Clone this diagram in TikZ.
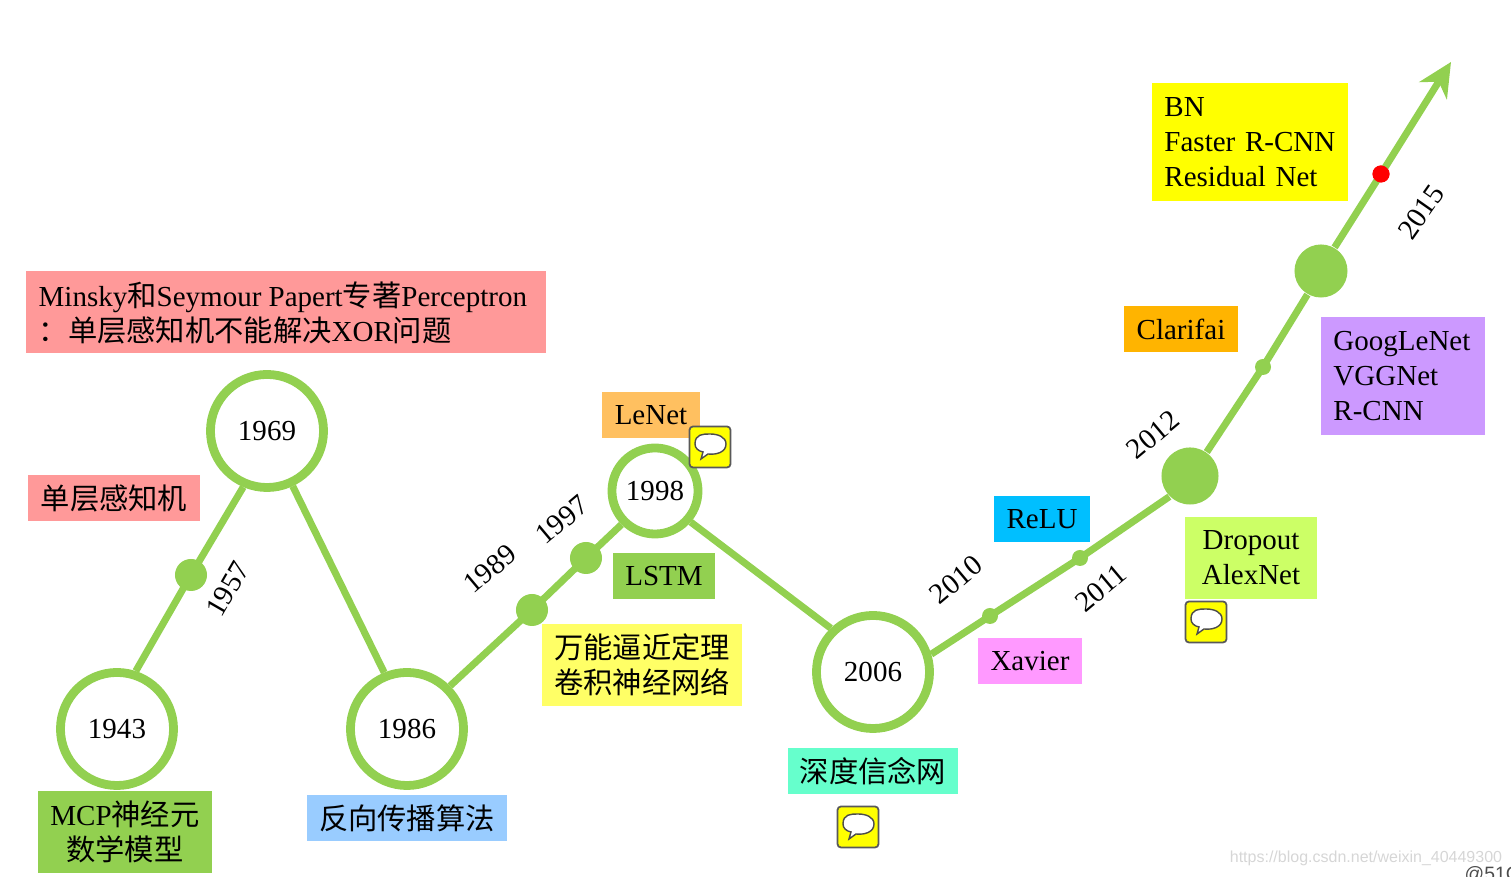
\documentclass[tikz,border=0pt]{standalone}
\usepackage{fontspec}
\setmainfont{Liberation Serif}
\setsansfont{Liberation Sans}
\newfontfamily\cjk{Noto Sans CJK SC}[Scale=1.01]
\usepackage{xcolor}
\usetikzlibrary{arrows.meta}
\definecolor{LineGreen}{RGB}{146,208,80}
\definecolor{BoxRed}{RGB}{255,153,153}
\definecolor{BoxBlue}{RGB}{153,204,255}
\definecolor{BoxOrange}{RGB}{255,192,96}
\definecolor{BoxAmber}{RGB}{255,180,0}
\definecolor{BoxYellow}{RGB}{255,255,102}
\definecolor{BoxBright}{RGB}{255,255,0}
\definecolor{BoxAqua}{RGB}{102,255,204}
\definecolor{BoxPink}{RGB}{255,153,255}
\definecolor{BoxCyan}{RGB}{0,191,255}
\definecolor{BoxLime}{RGB}{204,255,102}
\definecolor{BoxPurple}{RGB}{204,153,255}
\definecolor{DotRed}{RGB}{255,0,0}
\newcommand{\zh}[1]{{\cjk #1}}
\tikzset{
  yearnode/.style={circle, draw=LineGreen, line width=2.5pt, fill=white, inner sep=0pt, font=\fontsize{8.25}{10}\selectfont},
  bigyear/.style={yearnode, minimum size=1.13cm},
  smallyear/.style={yearnode, minimum size=0.86cm},
  gdot/.style={circle, fill=LineGreen, inner sep=0pt},
  reddot/.style={circle, fill=DotRed, inner sep=0pt, minimum size=0.17cm},
  lbox/.style={inner sep=0pt, font=\fontsize{8.25}{10}\selectfont, align=center},
  yearlab/.style={font=\fontsize{8.25}{10}\selectfont, inner sep=0pt},
  tl/.style={line width=2pt, LineGreen},
  chat/.style={draw=black!65, fill=BoxBright, line width=0.5pt, rounded corners=1pt, minimum size=0.41cm, inner sep=0pt},
}
\begin{document}
\begin{tikzpicture}[x=0.01cm, y=-0.01cm]
  \useasboundingbox (0,0) rectangle (1511,877);
  \clip (0,0) rectangle (1511,877);
  % year circles
  \node[bigyear] (y1943) at (117,729) {1943};
  \node[bigyear] (y1969) at (267,431) {1969};
  \node[bigyear] (y1986) at (407,729) {1986};
  \node[smallyear] (y1998) at (655,491) {1998};
  \node[bigyear] (y2006) at (873,672) {2006};
  % dots on the line
  \node[gdot, minimum size=0.32cm] (d1957) at (191,575) {};
  \node[gdot, minimum size=0.32cm] (d1989) at (532,610) {};
  \node[gdot, minimum size=0.32cm] (d1997) at (586,558) {};
  \node[gdot, minimum size=0.16cm] (d2010) at (990,616) {};
  \node[gdot, minimum size=0.16cm] (d2011) at (1080,558) {};
  \node[gdot, minimum size=0.57cm] (d2012) at (1190,476) {};
  \node[gdot, minimum size=0.16cm] (d2013) at (1263,367) {};
  \node[gdot, minimum size=0.53cm] (d2014) at (1321,271) {};
  \node[reddot] (d2015) at (1381,174) {};
  \coordinate (tip) at (1451,62);
  % line
  \draw[tl] (y1943.72) -- (d1957.center);
  \draw[tl] (d1957.center) -- (y1969.247);
  \draw[tl] (y1969.295) -- (y1986.112);
  \draw[tl] (y1986.45) -- (d1989.center);
  \draw[tl] (d1989.center) -- (d1997.center);
  \draw[tl] (d1997.center) -- (y1998.225);
  \draw[tl] (y1998.-41) -- (y2006.134);
  \draw[tl] (y2006.17) -- (d2010.center);
  \draw[tl] (d2010.center) -- (d2011.center);
  \draw[tl] (d2011.center) -- (d2012.225);
  \draw[tl] (d2012.55) -- (d2013.center);
  \draw[tl] (d2013.center) -- (d2014.240);
  \draw[tl] (d2014.60) -- (d2015.center);
  \draw[tl, -{Stealth[inset=3pt, length=9.6pt, width=9.2pt]}] (d2015.center) -- (tip);
  \node[reddot] (d2015top) at (d2015) {};
  % year labels
  \node[yearlab, rotate=60] (t1957) at (228,589) {1957};
  \node[yearlab, rotate=40] (t1989) at (490,569) {1989};
  \node[yearlab, rotate=40] (t1997) at (562,520) {1997};
  \node[yearlab, rotate=40] (t2010) at (956,580) {2010};
  \node[yearlab, rotate=40] (t2011) at (1101,588) {2011};
  \node[yearlab, rotate=40] (t2012) at (1153,435) {2012};
  \node[yearlab, rotate=55] (t2015) at (1421,212) {2015};
  % boxes
  \node[lbox, fill=BoxRed, minimum width=5.2cm, minimum height=0.82cm] (minsky) at (286,312) {};
  \node[lbox, align=left, anchor=west] (minskytxt) at (38,313) {Minsky\zh{和}Seymour Papert\zh{专著}Perceptron\\\zh{：单层感知机不能解决}XOR\zh{问题}};
  \node[lbox, fill=BoxRed, minimum width=1.72cm, minimum height=0.46cm] (slp) at (114,498) {\zh{单层感知机}};
  \node[lbox, fill=LineGreen, minimum width=1.74cm, minimum height=0.82cm] (mcp) at (125,832) {MCP\zh{神经元}\\\zh{数学模型}};
  \node[lbox, fill=BoxBlue, minimum width=2cm, minimum height=0.46cm] (bp) at (407,818) {\zh{反向传播算法}};
  \node[lbox, fill=BoxOrange, minimum width=0.97cm, minimum height=0.46cm] (lenet) at (651,415) {LeNet};
  \node[lbox, fill=LineGreen, minimum width=1.02cm, minimum height=0.46cm] (lstm) at (664,576) {LSTM};
  \node[lbox, fill=BoxYellow, minimum width=2cm, minimum height=0.82cm] (uat) at (642,665) {\zh{万能逼近定理}\\\zh{卷积神经网络}};
  \node[lbox, fill=BoxAqua, minimum width=1.7cm, minimum height=0.46cm] (dbn) at (873,771) {\zh{深度信念网}};
  \node[lbox, fill=BoxPink, minimum width=1.03cm, minimum height=0.46cm] (xavier) at (1030,661) {Xavier};
  \node[lbox, fill=BoxCyan, minimum width=0.96cm, minimum height=0.46cm] (relu) at (1042,519) {ReLU};
  \node[lbox, fill=BoxLime, minimum width=1.32cm, minimum height=0.82cm] (alexnet) at (1251,558) {Dropout\\AlexNet};
  \node[lbox, fill=BoxAmber, minimum width=1.13cm, minimum height=0.46cm] (clarifai) at (1181,329) {Clarifai};
  \node[lbox, fill=BoxPurple, align=left, text width=1.39cm, minimum height=1.18cm, inner xsep=0.12cm] (google) at (1403,376) {GoogLeNet\\VGGNet\\R-CNN};
  \node[lbox, fill=BoxBright, align=left, text width=1.71cm, minimum height=1.18cm, inner xsep=0.12cm] (bn) at (1250,142) {BN\\\mbox{Faster R-CNN}\\Residual Net};
  % chat icons
  \foreach \n/\x/\y in {ca/710/447, cb/1206/622, cc/858/827} {
    \node[chat] (\n) at (\x,\y) {};
    \draw[black!70, fill=white, line width=0.4pt] (\x-15,\y-3) .. controls (\x-15,\y-13) and (\x-7,\y-13) .. (\x,\y-13)
      .. controls (\x+8,\y-13) and (\x+16,\y-10) .. (\x+16,\y-3)
      .. controls (\x+16,\y+5) and (\x+7,\y+8) .. (\x-2,\y+7)
      -- (\x-9,\y+12) -- (\x-7,\y+5)
      .. controls (\x-12,\y+4) and (\x-15,\y+1) .. (\x-15,\y-3);
  }
  % watermark
  \node[font=\sffamily\fontsize{4.55}{6}\selectfont, text=black!16, inner sep=0pt] (mark) at (1366,858) {https://blog.csdn.net/weixin\_40449300};
  \node[font=\sffamily\fontsize{5.5}{6}\selectfont, text=black!70, inner sep=0pt, anchor=west] (mark2) at (1464,875) {@51C};
\end{tikzpicture}
\end{document}
